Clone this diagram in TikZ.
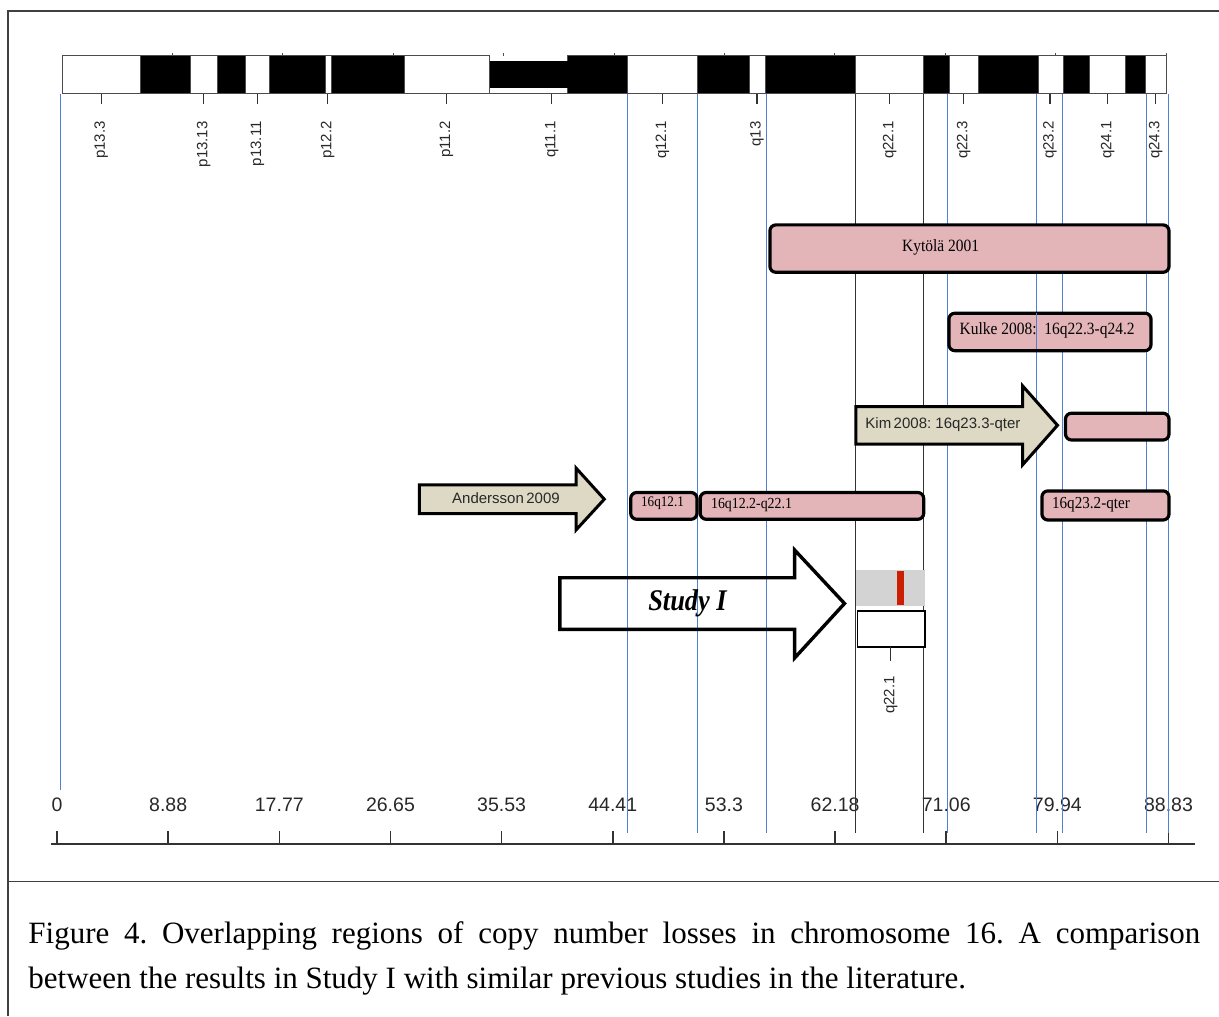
\documentclass[tikz,border=0pt]{standalone}
\usepackage{fontspec}
\usepackage{graphicx}
\setmainfont{Liberation Serif}
\newfontfamily\arial{Liberation Sans}
\definecolor{pinkf}{RGB}{227,180,184}
\definecolor{tanf}{RGB}{221,217,196}
\definecolor{bluel}{RGB}{80,128,208}
\definecolor{grayp}{RGB}{211,211,211}
\definecolor{redb}{RGB}{204,30,0}
\definecolor{darkt}{RGB}{40,40,40}
\frenchspacing
\begin{document}
\begin{tikzpicture}[x=0.5pt,y=-0.5pt,
  pinkbox/.style={draw=black, line width=1.6pt, fill=pinkf, rounded corners=3pt, inner sep=0pt, anchor=north west},
  bandlab/.style={rotate=90, anchor=east, inner sep=0pt, font=\arial\fontsize{7.5pt}{9pt}\selectfont, text=darkt},
  axlab/.style={inner sep=0pt, font=\arial\fontsize{9.75pt}{11pt}\selectfont, text=darkt},
  serlab/.style={inner sep=0pt, text=black},
  sanslab/.style={inner sep=0pt, text=darkt, font=\arial\fontsize{7.5pt}{9pt}\selectfont},
  vline/.style={draw=bluel, line width=0.6pt},
  kline/.style={draw=black!80, line width=0.6pt},
  chrom/.style={draw=black!70, line width=0.5pt},
  arrowshape/.style={draw=black, line width=1.5pt, line join=miter},
  framel/.style={draw=black!75, line width=0.8pt}
]
\useasboundingbox (0,0) rectangle (1219,1016);
% frame
\draw[framel] (1219,11) -- (8,11) -- (8,1016);
\draw[framel] (8,881.5) -- (1219,881.5);

% chromosome ideogram
\foreach \a/\b in {62/140.3,190.4/217.2,245.5/269.6,325.1/331.6,404.7/489.7,627.6/697.6,749.3/765.7,855.6/923.4,949/978.1,1038.2/1063,1089.1/1125.4,1145.3/1166}
  \draw[chrom, fill=white] (\a,56) rectangle (\b,94);
\foreach \a/\b in {140.3/190.4,217.2/245.5,269.6/325.1,331.6/404.7,567.5/627.6,697.6/749.3,765.7/855.6,923.4/949,978.1/1038.2,1063/1089.1,1125.4/1145.3}
  \draw[chrom, fill=black] (\a,56) rectangle (\b,94);
\fill[black] (489.7,61) rectangle (567.5,88.5);
\draw[chrom] (489.7,94) -- (567.5,94);
\foreach \k in {1,...,10}
  \draw[chrom] ({62+\k*110.4},53.5) -- ({62+\k*110.4},56);

% band ticks and labels
\foreach \x/\t [count=\i] in {101.2/p13.3,203.8/p13.13,257.4/p13.11,327.8/p12.2,446.4/p11.2,551.7/q11.1,662.4/q12.1,756.9/q13,889.7/q22.1,963.6/q22.3,1050/q23.2,1107.8/q24.1,1155.7/q24.3}{
  \draw[kline] (\x,94) -- (\x,104);
  \node[bandlab] (bl\i) at (\x,121) {\t};
}

% axis
\draw[draw=black!80, line width=0.75pt] (51,844) -- (1195,844);
\foreach \v [count=\i from 0] in {0,8.88,17.77,26.65,35.53,44.41,53.3,62.18,71.06,79.94,88.83}{
  \draw[draw=black!80, line width=0.75pt] ({57+\i*111.15},831) -- ({57+\i*111.15},844);
  \node[axlab] (ax\i) at ({57+\i*111.15},805) {\v};
}

% vertical guide lines
\draw[vline] (60.5,94) -- (60.5,790);
\foreach \x in {627.5,697.5,766.5,947.5,1036.5,1062.5,1146.5,1168.5}
  \draw[vline] (\x,94) -- (\x,833);
\foreach \x in {855.5,923.5}
  \draw[kline] (\x,94) -- (\x,833);

% pink boxes (path inset by half the border width)
\node[pinkbox, minimum width=199.55pt, minimum height=23.7pt] (kyt) at (768.3,223.3) {};
\node[serlab] (kytt) at (940.7,247) {\scalebox{0.9}[1]{\fontsize{8.6pt}{10pt}\selectfont Kytölä 2001}};

\node[pinkbox, minimum width=101.05pt, minimum height=18.75pt] (kul) at (947.3,311.6) {};
\draw[vline] (1036.5,312.5) -- (1036.5,348.5);
\node[serlab, anchor=west] (kult) at (959.3,330.5) {\scalebox{0.9}[1]{\fontsize{8.6pt}{10pt}\selectfont Kulke 2008:\ \ 16q22.3-q24.2}};

\node[pinkbox, minimum width=51.75pt, minimum height=13.4pt] (kimb) at (1063.9,411.6) {};

\node[pinkbox, minimum width=63.55pt, minimum height=14.55pt] (q232) at (1040.3,489.3) {};
\node[serlab, anchor=west] (q232t) at (1051.7,504.5) {\scalebox{0.9}[1]{\fontsize{8.4pt}{10pt}\selectfont 16q23.2-qter}};

\node[pinkbox, minimum width=33.15pt, minimum height=13.4pt] (q121) at (629.1,490.9) {};
\node[serlab] (q121t) at (662.5,503) {\scalebox{0.9}[1]{\fontsize{7.3pt}{9pt}\selectfont 16q12.1}};

\node[pinkbox, minimum width=111.75pt, minimum height=13.4pt] (q122) at (698.6,490.9) {};
\node[serlab, anchor=west] (q122t) at (710.7,505) {\scalebox{0.9}[1]{\fontsize{7.7pt}{9pt}\selectfont 16q12.2-q22.1}};

% tan arrows
\draw[arrowshape, fill=tanf] (855.8,406.5) -- (1022.7,406.5) -- (1022.7,386) -- (1057.5,425.3) -- (1022.7,464.7) -- (1022.7,444.2) -- (855.8,444.2) -- cycle;
\node[sanslab, anchor=west] (kimt) at (865,425) {Kim\,2008: 16q23.3-qter};

\draw[arrowshape, fill=tanf] (419.4,484.8) -- (576,484.8) -- (576,468) -- (604.3,499.2) -- (576,530) -- (576,513.5) -- (419.4,513.5) -- cycle;
\node[sanslab] (andt) at (506,498.3) {Andersson\,2009};

% Study I panel
\fill[grayp] (855.7,570) rectangle (925,605.7);
\fill[redb] (897.3,570.7) rectangle (904.3,605);
\node[draw=black, line width=0.9pt, fill=white, minimum width=33.75pt, minimum height=17.95pt, inner sep=0pt, anchor=north west] (stbox) at (856.6,609.9) {};
\draw[kline] (890.7,646.7) -- (890.7,661);
\node[bandlab] (stlab) at (890.7,676) {q22.1};

% Study I arrow
\draw[arrowshape, line width=1.7pt] (559.9,577.7) -- (794.6,577.7) -- (794.6,550) -- (844.5,603.5) -- (794.6,658) -- (794.6,629.3) -- (559.9,629.3) -- cycle;
\node[serlab] (studyt) at (687.5,603.3) {\scalebox{0.88}[1]{\fontsize{15pt}{18pt}\selectfont\bfseries\itshape Study I}};

% caption
\node[anchor=base west, inner sep=0pt, font=\fontsize{15.5pt}{18pt}\selectfont] (cap1) at (28,943.3) {\makebox[586pt][s]{Figure 4. Overlapping regions of copy number losses in chromosome 16. A comparison}};
\node[anchor=base west, inner sep=0pt, font=\fontsize{15.5pt}{18pt}\selectfont] (cap2) at (28,988.3) {between the results in Study I with similar previous studies in the literature.};
\end{tikzpicture}
\end{document}
